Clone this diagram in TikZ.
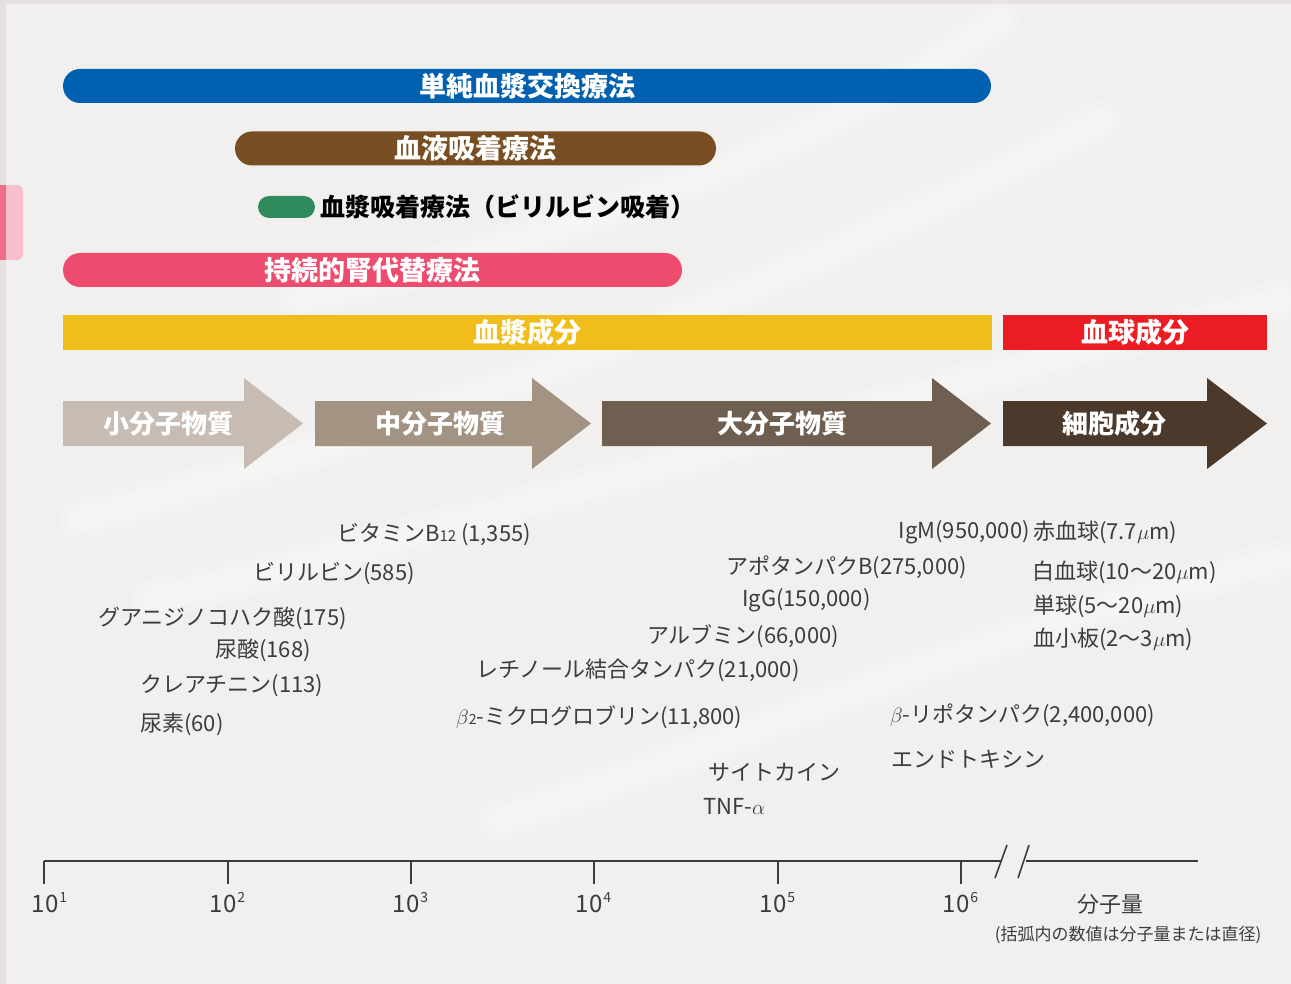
\documentclass[tikz,border=0pt]{standalone}
\usepackage{fontspec}
\setmainfont{Noto Sans CJK JP}

\definecolor{bgcol}{RGB}{241,240,239}
\definecolor{edgecol}{RGB}{228,225,224}
\definecolor{tabpink}{RGB}{248,190,203}
\definecolor{tabdark}{RGB}{238,110,136}
\definecolor{pexblue}{RGB}{0,97,176}
\definecolor{hpbrown}{RGB}{119,79,34}
\definecolor{pagreen}{RGB}{47,138,92}
\definecolor{crrtpink}{RGB}{238,76,110}
\definecolor{plasmayel}{RGB}{240,189,27}
\definecolor{cellred}{RGB}{236,28,36}
\definecolor{smallcol}{RGB}{199,188,179}
\definecolor{midcol}{RGB}{163,147,131}
\definecolor{largecol}{RGB}{111,95,80}
\definecolor{cellcol}{RGB}{75,58,44}
\definecolor{textgray}{RGB}{60,60,60}

\begin{document}
\begin{tikzpicture}[x=1pt,y=-1pt,
    bar/.style={rounded corners=17pt, minimum height=34pt, inner sep=0pt,
      text=white, font=\fontsize{27}{27}\selectfont\bfseries},
    band/.style={minimum height=35pt, inner sep=0pt,
      text=white, font=\fontsize{27}{27}\selectfont\bfseries},
    arrowlabel/.style={text=white, font=\fontsize{26}{26}\selectfont\bfseries, inner sep=0pt},
    mol/.style={text=textgray, font=\fontsize{22}{22}\selectfont, inner sep=0pt, anchor=west},
    axislabel/.style={text=textgray, font=\fontsize{24}{24}\selectfont, inner sep=0pt},
    wisp/.style={white, line cap=round, opacity=0.16}]

    % Background
    \useasboundingbox (0,0) rectangle (1291,984);
    \fill[bgcol] (0,0) rectangle (1291,984);
    \fill[edgecol] (0,0) rectangle (6,984);
    \fill[edgecol] (0,0) rectangle (1291,4);

    % faint fibres
    \foreach \w in {40,26,14} {
        \draw[wisp, line width=\w pt] (80,520) .. controls (400,430) and (700,330) .. (1100,120);
        \draw[wisp, line width=\w pt] (150,600) .. controls (500,520) and (800,420) .. (1280,300);
        \draw[wisp, line width=\w pt] (300,300) .. controls (550,240) and (800,160) .. (1000,20);
        \draw[wisp, line width=\w pt] (500,820) .. controls (750,740) and (950,640) .. (1280,560);
    }

    % Side tab
    \fill[tabpink, rounded corners=6pt] (-12,185) rectangle (23,260);
    \fill[tabdark] (0,185) rectangle (6,260);

    % Therapy bars
    \node[bar, fill=pexblue, minimum width=928pt] (pex) at (527,86) {単純血漿交換療法};
    \node[bar, fill=hpbrown, minimum width=481pt] (hp) at (475.5,148.5) {血液吸着療法};
    \node[bar, fill=pagreen, rounded corners=11pt, minimum width=57pt, minimum height=22pt] (pa) at (286.5,207) {};
    \node[anchor=west, inner sep=0pt, text=black, font=\fontsize{25}{25}\selectfont\bfseries]
        (palabel) at ([xshift=5pt]pa.east) {血漿吸着療法（ビリルビン吸着）};
    \node[bar, fill=crrtpink, minimum width=619pt] (crrt) at (372.5,270) {持続的腎代替療法};

    % Component bands
    \node[band, fill=plasmayel, minimum width=929pt] (plasma) at (527.5,332.5) {血漿成分};
    \node[band, fill=cellred, minimum width=264pt] (cells) at (1135,332.5) {血球成分};

    % Size class arrows
    \fill[smallcol] (63,401) -- (244,401) -- (244,378) -- (303,423.5)
        -- (244,469) -- (244,446) -- (63,446) -- cycle;
    \node[arrowlabel] (small) at (168,424) {小分子物質};
    \fill[midcol] (315,401) -- (532,401) -- (532,378) -- (591,423.5)
        -- (532,469) -- (532,446) -- (315,446) -- cycle;
    \node[arrowlabel] (middle) at (440,424) {中分子物質};
    \fill[largecol] (602,401) -- (932,401) -- (932,378) -- (991,423.5)
        -- (932,469) -- (932,446) -- (602,446) -- cycle;
    \node[arrowlabel] (large) at (782,424) {大分子物質};
    \fill[cellcol] (1003,401) -- (1207,401) -- (1207,378) -- (1267,423.5)
        -- (1207,469) -- (1207,446) -- (1003,446) -- cycle;
    \node[arrowlabel] (cell) at (1114,424) {細胞成分};

    % Substances
    \node[mol] (b12) at (337,535) {ビタミンB{\fontsize{15}{15}\selectfont 12} (1,355)};
    \node[mol] (bil) at (253,574) {ビリルビン(585)};
    \node[mol] (gsa) at (98,618) {グアニジノコハク酸(175)};
    \node[mol] (ua) at (215,650) {尿酸(168)};
    \node[mol] (cre) at (140,686) {クレアチニン(113)};
    \node[mol] (urea) at (140,724) {尿素(60)};
    \node[mol, anchor=east] (igm) at (1030,532) {IgM(950,000)};
    \node[mol] (apob) at (726,567) {アポタンパクB(275,000)};
    \node[mol] (igg) at (742,600) {IgG(150,000)};
    \node[mol] (alb) at (647,636) {アルブミン(66,000)};
    \node[mol] (rbp) at (476,670) {レチノール結合タンパク(21,000)};
    \node[mol] (b2m) at (456,717) {$\beta${\fontsize{14}{14}\selectfont 2}-ミクログロブリン(11,800)};
    \node[mol] (blp) at (890,715) {$\beta$-リポタンパク(2,400,000)};
    \node[mol] (etx) at (891,759) {エンドトキシン};
    \node[mol] (cyt) at (708,772) {サイトカイン};
    \node[mol] (tnf) at (703,806) {TNF-$\alpha$};
    \node[mol] (rbc) at (1033,532) {赤血球(7.7$\mu$m)};
    \node[mol] (wbc) at (1032,572) {白血球(10〜20$\mu$m)};
    \node[mol] (mono) at (1033,606) {単球(5〜20$\mu$m)};
    \node[mol] (plt) at (1033,639) {血小板(2〜3$\mu$m)};

    % Axis
    \coordinate (ax0) at (44,861);
    \coordinate (br1) at (1002,861);
    \coordinate (br2) at (1026,861);
    \coordinate (ax1) at (1198,861);
    \draw[line width=1.6pt, textgray] (ax0) -- (br1);
    \draw[line width=1.6pt, textgray] (br2) -- (ax1);
    \draw[line width=1.6pt, textgray] (995,878) -- (1007,845);
    \draw[line width=1.6pt, textgray] (1018,878) -- (1029,845);
    \foreach \e/\x/\lx in {1/44/45,2/228/223,3/411/406,4/594/589,5/778/773,6/961/956} {
        \coordinate (t\e) at (\x,861);
        \draw[line width=1.6pt, textgray] (t\e) -- ++(0,23);
        \node[axislabel] (l\e) at (\lx,903)
            {10\rlap{\hspace{1pt}\raisebox{10pt}{\fontsize{14}{14}\selectfont\e}}};
    }
    \node[axislabel, font=\fontsize{22}{22}\selectfont] (mw) at (1110,904) {分子量};
    \node[axislabel, font=\fontsize{17}{17}\selectfont] (note) at (1128,935)
        {(括弧内の数値は分子量または直径)};
\end{tikzpicture}
\end{document}
